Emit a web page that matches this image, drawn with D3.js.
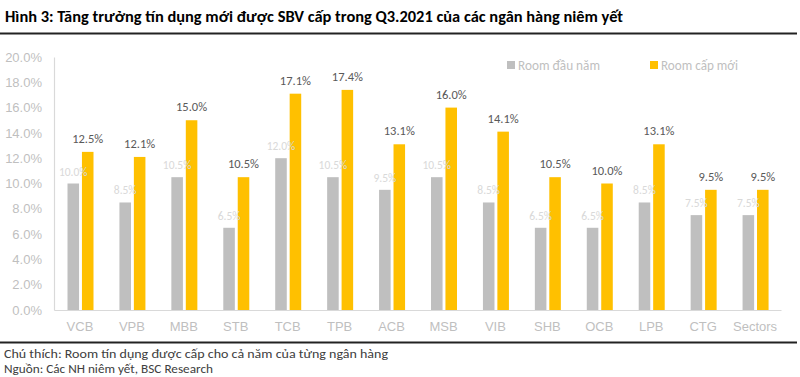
<!DOCTYPE html>
<html lang="vi">
<head>
<meta charset="UTF-8">
<title>Hình 3</title>
<style>
  body { margin: 0; background: #fff; }
  svg { display: block; font-family: Carlito, Calibri, "Open Sans", Roboto, sans-serif; }
</style>
</head>
<body>
<div id="chart"></div>
<script src="https://d3js.org/d3.v7.min.js"></script>
<script>
// --- data ---
const banks = ["VCB", "VPB", "MBB", "STB", "TCB", "TPB", "ACB", "MSB", "VIB", "SHB", "OCB", "LPB", "CTG", "Sectors"];
const roomDauNam = [10.0, 8.5, 10.5, 6.5, 12.0, 10.5, 9.5, 10.5, 8.5, 6.5, 6.5, 8.5, 7.5, 7.5];
const roomCapMoi = [12.5, 12.1, 15.0, 10.5, 17.1, 17.4, 13.1, 16.0, 14.1, 10.5, 10.0, 13.1, 9.5, 9.5];
const yTicks = [0, 2, 4, 6, 8, 10, 12, 14, 16, 18, 20];
const seriesNames = ["Room đầu năm", "Room cấp mới"];
const seriesColors = ["#bfbfbf", "#ffc000"];

const W = 800, H = 377;
const svg = d3.select("#chart").append("svg").attr("width", W).attr("height", H);

// title + rules
svg.append("text").attr("x", 5).attr("y", 22)
  .attr("font-size", 15).attr("font-weight", "bold").attr("fill", "#000")
  .attr("textLength", 618).attr("lengthAdjust", "spacingAndGlyphs")
  .text("Hình 3: Tăng trưởng tín dụng mới được SBV cấp trong Q3.2021 của các ngân hàng niêm yết");
svg.append("line").attr("x1", 0).attr("x2", 797).attr("y1", 33.5).attr("y2", 33.5)
  .attr("stroke", "#222").attr("stroke-width", 2);
svg.append("line").attr("x1", 0).attr("x2", 797).attr("y1", 342.5).attr("y2", 342.5)
  .attr("stroke", "#222").attr("stroke-width", 2);

// scales
const x = d3.scaleBand().domain(banks).range([54, 781]).padding(0);
const sub = d3.scaleBand().domain([0, 1]).range([13.5, 39.5]).paddingInner(0.2);
const y = d3.scaleLinear().domain([0, 20]).range([310, 57]);

// y axis
const yAxis = svg.append("g").attr("transform", "translate(54,0)")
  .call(d3.axisLeft(y).tickValues(yTicks).tickSize(0).tickPadding(12).tickFormat(d => d.toFixed(1) + "%"));
yAxis.select(".domain").attr("stroke", "#d9d9d9").attr("stroke-width", 1.2);
yAxis.selectAll("text").attr("font-size", 13).attr("fill", "#bfbfbf").attr("font-family", null);

// bars
const rows = banks.map((b, i) => ({ bank: b, vals: [roomDauNam[i], roomCapMoi[i]] }));
const grp = svg.append("g").selectAll("g").data(rows).join("g")
  .attr("transform", d => `translate(${x(d.bank)},0)`);
grp.selectAll("rect").data(d => d.vals.map((v, k) => ({ v, k }))).join("rect")
  .attr("x", d => sub(d.k))
  .attr("width", sub.bandwidth())
  .attr("y", d => y(d.v))
  .attr("height", d => y(0) - y(d.v))
  .attr("fill", d => seriesColors[d.k]);
grp.selectAll("text").data(d => d.vals.map((v, k) => ({ v, k }))).join("text")
  .attr("x", d => sub(d.k) + sub.bandwidth() / 2)
  .attr("y", d => y(d.v) - (d.k ? 9 : 8))
  .attr("text-anchor", "middle")
  .attr("font-size", d => d.k ? 12.5 : 11.5)
  .attr("fill", d => d.k ? "#595959" : "#d9d9d9")
  .text(d => d.v.toFixed(1) + "%");

// x axis
const xAxis = svg.append("g").attr("transform", "translate(0,310)")
  .call(d3.axisBottom(x).tickSize(0).tickPadding(12));
xAxis.select(".domain").attr("stroke", "#d9d9d9").attr("stroke-width", 1.2);
xAxis.selectAll("text").attr("font-size", 13).attr("fill", "#bfbfbf").attr("font-family", null);

// legend
const legX = [507, 650];
const legW = [82, 77];
const leg = svg.append("g").selectAll("g").data(seriesNames).join("g")
  .attr("transform", (d, i) => `translate(${legX[i]},65)`);
leg.append("rect").attr("x", 0).attr("y", -4).attr("width", 8).attr("height", 8)
  .attr("fill", (d, i) => seriesColors[i]);
leg.append("text").attr("x", 11).attr("y", 5).attr("font-size", 14).attr("fill", "#bfbfbf")
  .attr("textLength", (d, i) => legW[i]).attr("lengthAdjust", "spacingAndGlyphs")
  .text(d => d);

// footer
svg.append("text").attr("x", 4).attr("y", 358).attr("font-size", 12).attr("fill", "#404040")
  .attr("textLength", 384).attr("lengthAdjust", "spacingAndGlyphs")
  .text("Chú thích: Room tín dụng được cấp cho cả năm của từng ngân hàng");
svg.append("text").attr("x", 4).attr("y", 373).attr("font-size", 12).attr("fill", "#404040")
  .attr("textLength", 209).attr("lengthAdjust", "spacingAndGlyphs")
  .text("Nguồn: Các NH niêm yết, BSC Research");
</script>
</body>
</html>
